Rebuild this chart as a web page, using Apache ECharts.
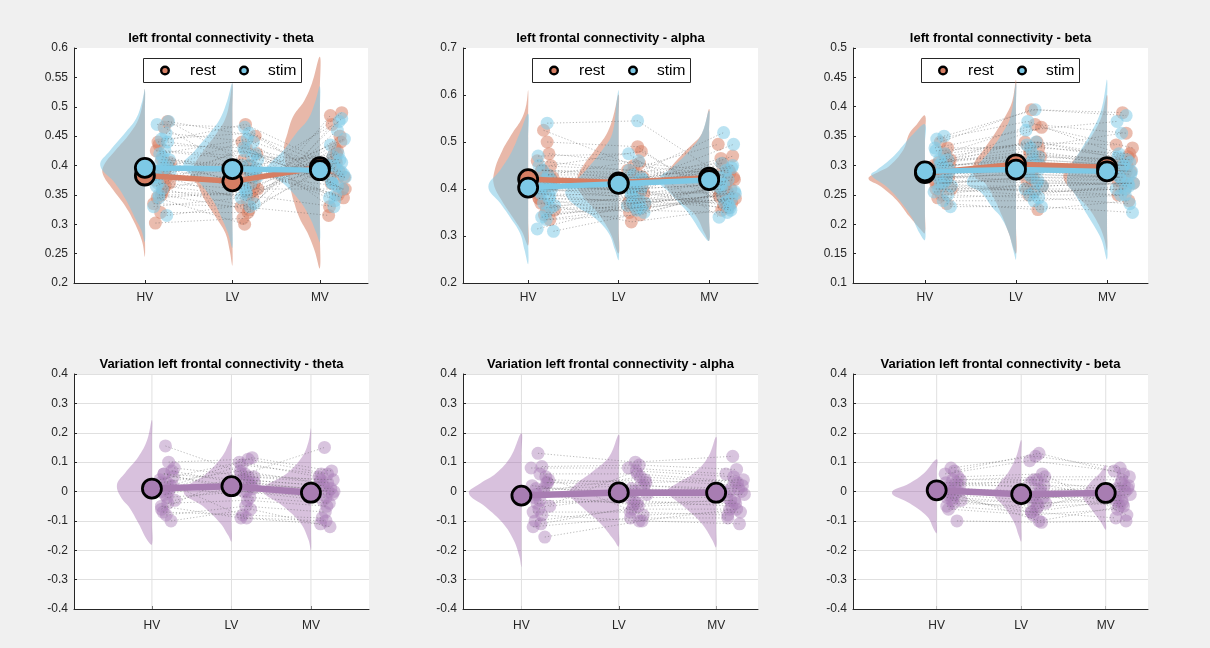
<!DOCTYPE html>
<html><head><meta charset="utf-8">
<script src="https://cdn.jsdelivr.net/npm/echarts@6/dist/echarts.min.js"></script>
<style>html,body{margin:0;padding:0;background:#f0f0f0}#c{width:1210px;height:648px}</style>
</head><body><div id="c"></div>
<script>
// ---------- categories / ticks ----------
const categories = ['HV', 'LV', 'MV'];
const legendNames = ['rest', 'stim'];

// ---------- horizontal jitter of the individual dots (x units) ----------
const jitterRest = [0.17,0.26,0.12,0.21,0.15,0.24,0.10,0.19,0.28,0.14,0.22,0.11,0.18,0.25,0.13,0.20,0.27,0.16,0.23,0.12,0.19,0.29,0.15,0.21];
const jitterStim = [0.21,0.14,0.25,0.11,0.19,0.28,0.16,0.23,0.13,0.20,0.27,0.17,0.10,0.22,0.26,0.15,0.18,0.24,0.12,0.29,0.16,0.20,0.25,0.14];

// ---------- theta ----------
const thetaRestHV = [0.383,0.475,0.302,0.36,0.44,0.395,0.335,0.41,0.37,0.345,0.465,0.39,0.32,0.38,0.425,0.355,0.40,0.435,0.365,0.375,0.35,0.405,0.385,0.39];
const thetaRestLV = [0.34,0.45,0.31,0.39,0.47,0.36,0.33,0.40,0.42,0.30,0.38,0.44,0.32,0.37,0.41,0.35,0.385,0.43,0.345,0.395,0.325,0.36,0.375,0.40];
const thetaRestMV = [0.43,0.36,0.485,0.35,0.40,0.44,0.315,0.42,0.38,0.47,0.39,0.33,0.41,0.49,0.37,0.425,0.345,0.395,0.45,0.385,0.405,0.36,0.415,0.38];
const thetaStimHV = [0.40,0.47,0.315,0.38,0.445,0.41,0.35,0.425,0.365,0.36,0.475,0.42,0.33,0.395,0.44,0.37,0.405,0.455,0.385,0.39,0.345,0.415,0.40,0.38];
const thetaStimLV = [0.37,0.465,0.335,0.40,0.455,0.38,0.35,0.415,0.43,0.33,0.395,0.445,0.345,0.39,0.42,0.36,0.40,0.44,0.365,0.41,0.355,0.385,0.39,0.425];
const thetaStimMV = [0.42,0.37,0.48,0.345,0.395,0.445,0.33,0.41,0.375,0.46,0.385,0.34,0.40,0.475,0.36,0.415,0.35,0.39,0.435,0.38,0.40,0.365,0.405,0.37];
const thetaRestMean = [0.383, 0.373, 0.397];
const thetaStimMean = [0.396, 0.394, 0.392];
const thetaRestViolin = [
  [[0.245,0],[0.27,0.03],[0.30,0.11],[0.33,0.22],[0.36,0.37],[0.385,0.48],[0.40,0.47],[0.425,0.34],[0.455,0.17],[0.48,0.07],[0.51,0.02],[0.53,0]],
  [[0.23,0],[0.255,0.03],[0.285,0.08],[0.31,0.18],[0.34,0.31],[0.37,0.41],[0.38,0.47],[0.40,0.44],[0.425,0.33],[0.455,0.18],[0.48,0.08],[0.51,0.03],[0.54,0]],
  [[0.225,0],[0.255,0.06],[0.285,0.14],[0.31,0.23],[0.34,0.30],[0.37,0.35],[0.40,0.39],[0.43,0.41],[0.455,0.37],[0.485,0.30],[0.51,0.18],[0.54,0.09],[0.585,0]]
];
const thetaStimViolin = [
  [[0.27,0],[0.29,0.04],[0.31,0.11],[0.34,0.21],[0.37,0.34],[0.40,0.51],[0.425,0.40],[0.455,0.23],[0.48,0.10],[0.51,0.03],[0.53,0]],
  [[0.26,0],[0.285,0.05],[0.31,0.12],[0.34,0.22],[0.37,0.37],[0.40,0.56],[0.425,0.43],[0.455,0.26],[0.48,0.14],[0.51,0.06],[0.54,0]],
  [[0.27,0],[0.285,0.04],[0.31,0.11],[0.34,0.23],[0.37,0.42],[0.39,0.60],[0.40,0.59],[0.425,0.42],[0.455,0.27],[0.48,0.13],[0.51,0.05],[0.535,0]]
];

// ---------- alpha ----------
const alphaRestHV = [0.525,0.42,0.38,0.50,0.44,0.335,0.46,0.40,0.41,0.37,0.43,0.39,0.345,0.45,0.415,0.36,0.425,0.40,0.475,0.38,0.42,0.355,0.44,0.41];
const alphaRestLV = [0.45,0.40,0.35,0.49,0.42,0.345,0.44,0.38,0.39,0.33,0.43,0.37,0.36,0.48,0.41,0.385,0.425,0.40,0.455,0.375,0.415,0.365,0.435,0.395];
const alphaRestMV = [0.43,0.47,0.39,0.36,0.45,0.40,0.495,0.375,0.42,0.355,0.44,0.385,0.41,0.37,0.465,0.395,0.425,0.365,0.435,0.40,0.415,0.38,0.455,0.39];
const alphaStimHV = [0.54,0.40,0.36,0.47,0.42,0.31,0.44,0.38,0.395,0.35,0.41,0.37,0.315,0.43,0.40,0.34,0.41,0.385,0.45,0.365,0.405,0.335,0.42,0.39];
const alphaStimLV = [0.545,0.39,0.36,0.475,0.415,0.35,0.43,0.375,0.40,0.355,0.42,0.38,0.365,0.46,0.405,0.37,0.41,0.395,0.44,0.37,0.40,0.36,0.425,0.385];
const alphaStimMV = [0.42,0.455,0.38,0.34,0.44,0.395,0.52,0.36,0.41,0.35,0.495,0.37,0.405,0.365,0.45,0.385,0.43,0.355,0.425,0.39,0.41,0.375,0.445,0.40];
const alphaRestMean = [0.421, 0.414, 0.424];
const alphaStimMean = [0.403, 0.411, 0.419];
const alphaRestViolin = [
  [[0.28,0],[0.31,0.07],[0.34,0.17],[0.375,0.29],[0.41,0.38],[0.44,0.37],[0.48,0.29],[0.52,0.17],[0.55,0.07],[0.58,0.02],[0.61,0]],
  [[0.263,0],[0.306,0.09],[0.341,0.20],[0.362,0.29],[0.391,0.42],[0.419,0.46],[0.447,0.40],[0.483,0.26],[0.518,0.13],[0.554,0.06],[0.601,0]],
  [[0.29,0],[0.306,0.05],[0.341,0.14],[0.362,0.25],[0.391,0.42],[0.419,0.51],[0.447,0.42],[0.483,0.25],[0.518,0.08],[0.57,0]]
];
const alphaStimViolin = [
  [[0.24,0],[0.27,0.04],[0.306,0.09],[0.34,0.20],[0.37,0.31],[0.405,0.44],[0.44,0.31],[0.48,0.18],[0.52,0.09],[0.56,0]],
  [[0.249,0],[0.27,0.04],[0.306,0.11],[0.341,0.28],[0.362,0.46],[0.391,0.59],[0.412,0.50],[0.447,0.33],[0.483,0.18],[0.518,0.07],[0.59,0.02],[0.61,0]],
  [[0.29,0],[0.306,0.08],[0.341,0.20],[0.362,0.29],[0.391,0.43],[0.419,0.56],[0.447,0.40],[0.483,0.21],[0.518,0.08],[0.567,0]]
];

// ---------- beta ----------
const betaRestHV = [0.34,0.28,0.26,0.32,0.295,0.235,0.30,0.27,0.31,0.245,0.285,0.275,0.25,0.33,0.29,0.265,0.30,0.28,0.315,0.27,0.29,0.26,0.305,0.285];
const betaRestLV = [0.395,0.30,0.26,0.37,0.32,0.225,0.34,0.28,0.365,0.25,0.31,0.29,0.27,0.33,0.30,0.255,0.315,0.285,0.34,0.275,0.305,0.265,0.325,0.295];
const betaRestMV = [0.39,0.29,0.25,0.355,0.31,0.24,0.335,0.28,0.33,0.265,0.30,0.285,0.27,0.32,0.295,0.26,0.31,0.28,0.315,0.275,0.30,0.27,0.305,0.29];
const betaStimHV = [0.35,0.285,0.25,0.33,0.30,0.23,0.31,0.275,0.345,0.24,0.29,0.27,0.255,0.32,0.295,0.26,0.305,0.28,0.325,0.265,0.30,0.27,0.31,0.28];
const betaStimLV = [0.395,0.29,0.245,0.36,0.31,0.23,0.33,0.27,0.375,0.24,0.30,0.28,0.26,0.34,0.295,0.25,0.32,0.275,0.335,0.265,0.305,0.255,0.315,0.285];
const betaStimMV = [0.385,0.28,0.235,0.375,0.30,0.22,0.355,0.27,0.32,0.25,0.29,0.275,0.26,0.31,0.285,0.25,0.30,0.265,0.315,0.27,0.295,0.26,0.305,0.28];
const betaRestMean = [0.287, 0.302, 0.297];
const betaStimMean = [0.290, 0.293, 0.290];
const betaRestViolin = [
  [[0.185,0],[0.19,0.04],[0.213,0.17],[0.241,0.31],[0.264,0.48],[0.278,0.62],[0.29,0.50],[0.298,0.40],[0.326,0.24],[0.355,0.17],[0.37,0.09],[0.385,0]],
  [[0.15,0],[0.185,0.08],[0.213,0.15],[0.241,0.23],[0.27,0.34],[0.28,0.45],[0.30,0.47],[0.326,0.36],[0.355,0.23],[0.383,0.12],[0.41,0.04],[0.446,0]],
  [[0.156,0],[0.175,0.03],[0.199,0.09],[0.227,0.20],[0.255,0.37],[0.28,0.48],[0.298,0.42],[0.326,0.28],[0.355,0.15],[0.383,0.06],[0.42,0]]
];
const betaStimViolin = [
  [[0.173,0],[0.185,0.06],[0.213,0.15],[0.241,0.28],[0.264,0.42],[0.284,0.59],[0.292,0.53],[0.315,0.35],[0.338,0.22],[0.355,0.12],[0.37,0]],
  [[0.14,0],[0.156,0.03],[0.185,0.08],[0.213,0.17],[0.227,0.25],[0.255,0.39],[0.27,0.54],[0.298,0.43],[0.326,0.28],[0.355,0.15],[0.383,0.06],[0.44,0]],
  [[0.14,0],[0.173,0.06],[0.199,0.15],[0.227,0.26],[0.255,0.37],[0.27,0.44],[0.298,0.40],[0.326,0.29],[0.355,0.18],[0.383,0.09],[0.41,0.04],[0.446,0]]
];

// ---------- variation (stim - rest) ----------
const varThetaHV = [0.155,0.02,-0.05,0.10,0.06,-0.10,0.04,-0.02,0.08,-0.07,0.01,0.03,-0.08,0.07,0.0,-0.04,0.05,-0.01,0.02,-0.06,0.03,-0.03,0.06,0.0];
const varThetaLV = [0.06,0.115,-0.09,0.11,0.04,-0.06,0.10,0.0,0.05,-0.08,0.03,0.07,-0.05,0.02,0.09,-0.03,0.01,0.04,-0.02,0.06,-0.09,0.03,0.0,0.05];
const varThetaMV = [0.15,0.07,-0.11,0.06,0.02,-0.12,0.05,-0.02,0.04,-0.09,0.0,0.03,-0.07,0.01,0.06,-0.05,-0.01,0.02,-0.04,0.04,-0.10,0.0,-0.03,0.03];
const varAlphaHV = [0.13,0.03,-0.12,0.085,0.01,-0.155,0.08,-0.03,0.04,-0.10,0.0,0.02,-0.06,0.05,-0.02,-0.11,0.03,-0.04,0.01,-0.07,0.06,-0.05,-0.01,-0.08];
const varAlphaLV = [0.10,0.02,-0.09,0.09,0.0,-0.10,0.08,-0.04,0.03,-0.06,0.05,-0.02,0.07,-0.08,0.01,-0.05,0.04,-0.03,0.02,-0.07,0.06,-0.01,-0.045,-0.10];
const varAlphaMV = [0.12,0.0,-0.09,0.075,0.01,-0.11,0.06,-0.03,0.04,-0.06,0.03,-0.02,0.05,-0.07,0.0,-0.04,0.02,-0.05,0.01,-0.08,0.035,-0.01,-0.03,-0.06];
const varBetaHV = [0.08,0.0,-0.05,0.07,0.02,-0.10,0.06,-0.02,0.04,-0.06,0.01,0.03,-0.03,0.05,-0.01,-0.04,0.02,0.0,0.03,-0.02,0.04,-0.03,0.01,-0.01];
const varBetaLV = [0.12,-0.02,-0.07,0.13,0.04,-0.105,0.105,-0.04,0.05,-0.08,0.0,0.03,-0.06,0.06,-0.03,-0.05,0.02,-0.01,0.01,-0.07,0.04,-0.04,-0.02,-0.10];
const varBetaMV = [0.08,0.01,-0.09,0.06,0.0,-0.10,0.07,-0.03,0.05,-0.06,0.02,-0.02,0.03,-0.08,0.01,-0.04,0.02,-0.05,0.0,-0.03,0.04,-0.01,-0.02,-0.05];
const varThetaMean = [0.010, 0.018, -0.004];
const varAlphaMean = [-0.014, -0.003, -0.004];
const varBetaMean = [0.004, -0.009, -0.005];
const varThetaViolin = [
  [[-0.18,0],[-0.165,0.06],[-0.108,0.17],[-0.052,0.29],[-0.024,0.38],[0.022,0.44],[0.062,0.34],[0.118,0.17],[0.175,0.06],[0.243,0]],
  [[-0.17,0],[-0.15,0.04],[-0.108,0.14],[-0.052,0.35],[0.0,0.60],[0.062,0.31],[0.118,0.12],[0.165,0.03],[0.186,0]],
  [[-0.20,0],[-0.165,0.03],[-0.108,0.13],[-0.052,0.34],[0.005,0.60],[0.062,0.30],[0.118,0.11],[0.17,0.03],[0.215,0]]
];
const varAlphaViolin = [
  [[-0.256,0],[-0.222,0.02],[-0.165,0.08],[-0.108,0.19],[-0.052,0.37],[-0.006,0.54],[0.028,0.42],[0.062,0.26],[0.118,0.11],[0.198,0]],
  [[-0.187,0],[-0.165,0.05],[-0.108,0.19],[-0.052,0.38],[-0.006,0.51],[0.028,0.43],[0.062,0.29],[0.118,0.10],[0.193,0]],
  [[-0.19,0],[-0.165,0.04],[-0.108,0.15],[-0.052,0.33],[0.0,0.50],[0.028,0.40],[0.062,0.23],[0.118,0.08],[0.186,0]]
];
const varBetaViolin = [
  [[-0.142,0],[-0.131,0.03],[-0.086,0.11],[-0.04,0.32],[-0.004,0.53],[0.028,0.32],[0.062,0.15],[0.11,0]],
  [[-0.17,0],[-0.15,0.03],[-0.108,0.08],[-0.052,0.20],[-0.01,0.32],[0.028,0.26],[0.062,0.16],[0.118,0.06],[0.175,0]],
  [[-0.13,0],[-0.108,0.05],[-0.052,0.19],[-0.015,0.27],[0.028,0.19],[0.062,0.07],[0.09,0]]
];

// ---------- styles ----------
const REST = '#D67E63', STIM = '#7DC9E6', PURPLE = '#9E64AB', PURPLE_DOT = '#A97DB6', PURPLE_MEAN = '#A87DB2';
const FONT = '"Liberation Sans", Arial, Helvetica, sans-serif';
const AX = '#262626';

const panels = [
  { title: 'left frontal connectivity - theta', box: [74, 48, 294, 235], x: [0.19, 3.55], y: [0.2, 0.6, 0.05], legend: 143, grid: false,
    groups: [
      { name: 'rest', color: REST, dot: REST, mean: REST, op: 0.55, vals: [thetaRestHV, thetaRestLV, thetaRestMV], violin: thetaRestViolin, means: thetaRestMean, jit: jitterRest },
      { name: 'stim', color: STIM, dot: STIM, mean: STIM, op: 0.55, vals: [thetaStimHV, thetaStimLV, thetaStimMV], violin: thetaStimViolin, means: thetaStimMean, jit: jitterStim }] },
  { title: 'left frontal connectivity - alpha', box: [463, 48, 295, 235], x: [0.28, 3.54], y: [0.2, 0.7, 0.1], legend: 532, grid: false,
    groups: [
      { name: 'rest', color: REST, dot: REST, mean: REST, op: 0.55, vals: [alphaRestHV, alphaRestLV, alphaRestMV], violin: alphaRestViolin, means: alphaRestMean, jit: jitterRest },
      { name: 'stim', color: STIM, dot: STIM, mean: STIM, op: 0.55, vals: [alphaStimHV, alphaStimLV, alphaStimMV], violin: alphaStimViolin, means: alphaStimMean, jit: jitterStim }] },
  { title: 'left frontal connectivity - beta', box: [853, 48, 295, 235], x: [0.21, 3.45], y: [0.1, 0.5, 0.05], legend: 921, grid: false,
    groups: [
      { name: 'rest', color: REST, dot: REST, mean: REST, op: 0.55, vals: [betaRestHV, betaRestLV, betaRestMV], violin: betaRestViolin, means: betaRestMean, jit: jitterRest },
      { name: 'stim', color: STIM, dot: STIM, mean: STIM, op: 0.55, vals: [betaStimHV, betaStimLV, betaStimMV], violin: betaStimViolin, means: betaStimMean, jit: jitterStim }] },
  { title: 'Variation left frontal connectivity - theta', box: [74, 374, 295, 235], x: [0.02, 3.73], y: [-0.4, 0.4, 0.1], legend: null, grid: true,
    groups: [{ name: 'var', color: PURPLE, dot: PURPLE_DOT, mean: PURPLE_MEAN, op: 0.4, vals: [varThetaHV, varThetaLV, varThetaMV], violin: varThetaViolin, means: varThetaMean, jit: jitterRest }] },
  { title: 'Variation left frontal connectivity - alpha', box: [463, 374, 295, 235], x: [0.4, 3.43], y: [-0.4, 0.4, 0.1], legend: null, grid: true,
    groups: [{ name: 'var', color: PURPLE, dot: PURPLE_DOT, mean: PURPLE_MEAN, op: 0.4, vals: [varAlphaHV, varAlphaLV, varAlphaMV], violin: varAlphaViolin, means: varAlphaMean, jit: jitterRest }] },
  { title: 'Variation left frontal connectivity - beta', box: [853, 374, 295, 235], x: [0.01, 3.5], y: [-0.4, 0.4, 0.1], legend: null, grid: true,
    groups: [{ name: 'var', color: PURPLE, dot: PURPLE_DOT, mean: PURPLE_MEAN, op: 0.4, vals: [varBetaHV, varBetaLV, varBetaMV], violin: varBetaViolin, means: varBetaMean, jit: jitterRest }] }
];

const option = { animation: false, backgroundColor: '#f0f0f0', grid: [], xAxis: [], yAxis: [], series: [], graphic: [] };

panels.forEach((p, k) => {
  const [l, t, w, h] = p.box;
  option.grid.push({ left: l, top: t, width: w, height: h, show: true, backgroundColor: '#fff', borderWidth: 0 });
  const catVals = categories.map((c, i) => i + 1);
  option.xAxis.push({
    type: 'value', gridIndex: k, min: p.x[0], max: p.x[1],
    axisLine: { show: true, onZero: false, lineStyle: { color: AX, width: 1 } },
    axisTick: { show: true, inside: true, length: 3, customValues: catVals, lineStyle: { color: AX } },
    axisLabel: { show: true, customValues: catVals, margin: p.grid ? 11 : 9, color: AX, fontSize: 12, fontFamily: FONT,
      formatter: v => categories[Math.round(v) - 1] || '' },
    splitLine: { show: false }
  });
  option.yAxis.push({
    type: 'value', gridIndex: k, min: p.y[0], max: p.y[1], interval: p.y[2],
    axisLine: { show: true, onZero: false, lineStyle: { color: AX, width: 1 } },
    axisTick: { show: true, inside: true, length: 3, lineStyle: { color: AX } },
    axisLabel: { margin: 6, color: AX, fontSize: 12, fontFamily: FONT },
    splitLine: { show: p.grid, lineStyle: { color: '#e0e0e0', width: 1 } }
  });

  if (p.grid) {
    option.series.push({
      type: 'custom', xAxisIndex: k, yAxisIndex: k, z: 1, silent: true,
      data: catVals.map(c => [c, p.y[0]]),
      renderItem: (params, api) => {
        const x = params.dataIndex + 1;
        const a = api.coord([x, p.y[0]]), b = api.coord([x, p.y[1]]);
        return { type: 'line', shape: { x1: a[0], y1: a[1], x2: b[0], y2: b[1] }, style: { stroke: '#e0e0e0', lineWidth: 1 } };
      }
    });
  }

  // half violins
  p.groups.forEach(g => {
    option.series.push({
      type: 'custom', xAxisIndex: k, yAxisIndex: k, z: 2, silent: true,
      data: catVals.map((c, i) => [c, g.violin[i][0][0]]),
      renderItem: (params, api) => {
        const i = params.dataIndex, x0 = i + 1, prof = g.violin[i];
        const pts = prof.map(([y, wd]) => api.coord([x0 - wd, y]));
        const yTop = prof[prof.length - 1][0], yBot = prof[0][0];
        for (let j = 1; j < 6; j++) pts.push(api.coord([x0, yTop - (yTop - yBot) * j / 6]));
        return { type: 'polygon', shape: { points: pts, smooth: 0.4 }, style: { fill: g.color, opacity: g.op } };
      }
    });
  });

  // individual dots
  p.groups.forEach(g => {
    const data = [];
    g.vals.forEach((arr, gi) => arr.forEach((v, i) => data.push([gi + 1 + g.jit[i], v])));
    option.series.push({
      type: 'scatter', xAxisIndex: k, yAxisIndex: k, z: 3, silent: true, symbolSize: 13,
      itemStyle: { color: g.dot, opacity: p.grid ? 0.45 : 0.52 }, data
    });
  });

  // subject dotted lines
  p.groups.forEach(g => {
    option.series.push({
      type: 'custom', xAxisIndex: k, yAxisIndex: k, z: 4, silent: true,
      data: g.vals[0].map((v, i) => [1 + g.jit[i], v]),
      renderItem: (params, api) => {
        const i = params.dataIndex;
        const pts = g.vals.map((arr, gi) => api.coord([gi + 1 + g.jit[i], arr[i]]));
        return { type: 'polyline', shape: { points: pts }, style: { stroke: '#555', lineWidth: 0.8, lineDash: [1.2, 2], fill: null, opacity: 0.5 } };
      }
    });
  });

  // mean lines
  p.groups.forEach(g => {
    option.series.push({
      type: 'line', xAxisIndex: k, yAxisIndex: k, z: 5, silent: true, symbol: 'none',
      lineStyle: { color: g.mean, width: p.grid ? 6.5 : 5.5 },
      data: g.means.map((m, i) => [i + 1, m])
    });
  });
  // mean markers
  p.groups.forEach(g => {
    option.series.push({
      type: 'scatter', name: g.name, xAxisIndex: k, yAxisIndex: k, z: 6, silent: true, symbolSize: 19,
      itemStyle: { color: g.mean, borderColor: '#000', borderWidth: 2.8, opacity: 1 },
      data: g.means.map((m, i) => [i + 1, m])
    });
  });

  // title
  option.graphic.push({
    type: 'text', x: l + w / 2, y: t - 9.5, z: 100, silent: true,
    style: { text: p.title, align: 'center', verticalAlign: 'middle', fill: '#000', font: 'bold 13px ' + FONT }
  });

  // legend
  if (p.legend !== null) {
    const gs = p.groups;
    option.graphic.push({
      type: 'group', x: p.legend, y: 58, z: 100, silent: true,
      children: [
        { type: 'rect', shape: { x: 0.5, y: 0.5, width: 158, height: 24 }, style: { fill: '#fff', stroke: AX, lineWidth: 1 } },
        { type: 'circle', shape: { cx: 22, cy: 12.5, r: 3.8 }, style: { fill: gs[0].mean, stroke: '#000', lineWidth: 2.4 } },
        { type: 'text', x: 47, y: 13, style: { text: legendNames[0], align: 'left', verticalAlign: 'middle', fill: '#000', font: '15.5px ' + FONT } },
        { type: 'circle', shape: { cx: 101, cy: 12.5, r: 3.8 }, style: { fill: gs[1].mean, stroke: '#000', lineWidth: 2.4 } },
        { type: 'text', x: 125, y: 13, style: { text: legendNames[1], align: 'left', verticalAlign: 'middle', fill: '#000', font: '15.5px ' + FONT } }
      ]
    });
  }
});

const chart = echarts.init(document.getElementById('c'), null, { renderer: 'canvas' });
chart.setOption(option);
</script></body></html>
